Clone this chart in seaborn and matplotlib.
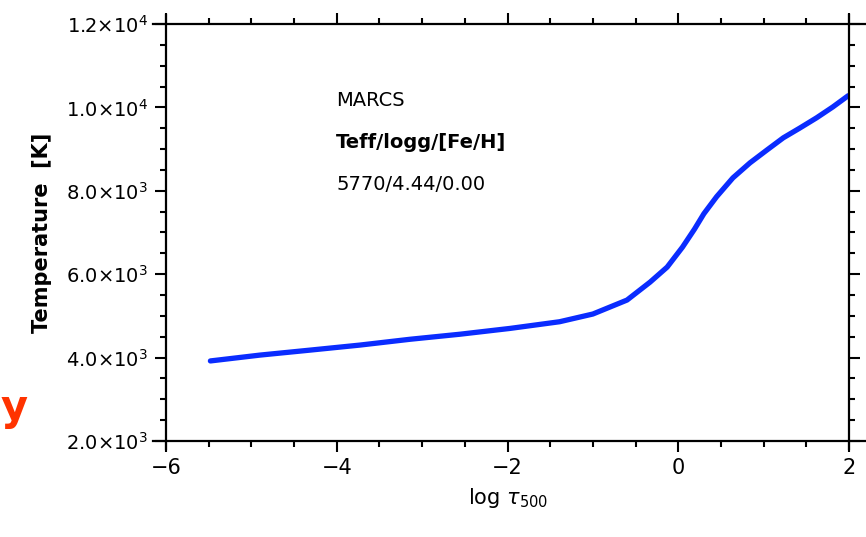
import matplotlib
matplotlib.use("Agg")
import matplotlib.pyplot as plt
import seaborn as sns
import pandas as pd
from matplotlib.ticker import MultipleLocator, FixedLocator

# Data
log_tau = [-5.48, -4.9, -4.31, -3.73, -3.14, -2.56, -1.97, -1.39, -1.0, -0.6,
           -0.33, -0.13, 0.05, 0.19, 0.3, 0.45, 0.64, 0.84, 1.04, 1.23,
           1.42, 1.62, 1.81, 1.99]
temperature = [3920, 4060, 4180, 4300, 4440, 4560, 4700, 4860, 5045, 5380,
               5810, 6170, 6650, 7080, 7450, 7860, 8310, 8670, 8980, 9270,
               9500, 9750, 10010, 10280]
y_ticks = [2000, 4000, 6000, 8000, 10000, 12000]
y_tick_labels = [r"2.0×10$^{3}$", r"4.0×10$^{3}$", r"6.0×10$^{3}$",
                 r"8.0×10$^{3}$", r"1.0×10$^{4}$", r"1.2×10$^{4}$"]
x_ticks = [-6, -4, -2, 0, 2]
x_tick_labels = ["\u22126", "\u22124", "\u22122", "0", "2"]
annotation_lines = ["MARCS", "Teff/logg/[Fe/H]", "5770/4.44/0.00"]

sns.set_style("ticks")
plt.rcParams["font.family"] = ["DejaVu Sans"]
plt.rcParams["mathtext.fontset"] = "dejavusans"
plt.rcParams["text.color"] = "black"
plt.rcParams["axes.labelcolor"] = "black"
plt.rcParams["xtick.color"] = "black"
plt.rcParams["ytick.color"] = "black"

fig = plt.figure(figsize=(8.66, 5.37), dpi=100)
ax = fig.add_axes([166 / 866, (537 - 441) / 537, (849 - 166) / 866, (441 - 24) / 537])

df = pd.DataFrame({"log_tau": log_tau, "T": temperature})
sns.lineplot(data=df, x="log_tau", y="T", ax=ax, color="#0a2cff", linewidth=3.8,
             sort=False)

ax.set_xlim(-6, 2)
ax.set_ylim(2000, 12000)
ax.xaxis.set_major_locator(FixedLocator(x_ticks))
ax.set_xticklabels(x_tick_labels)
ax.xaxis.set_minor_locator(MultipleLocator(0.5))
ax.yaxis.set_major_locator(FixedLocator(y_ticks))
ax.set_yticklabels(y_tick_labels)
ax.yaxis.set_minor_locator(MultipleLocator(500))

for side in ["top", "bottom", "left", "right"]:
    ax.spines[side].set_visible(True)
    ax.spines[side].set_linewidth(1.6)
    ax.spines[side].set_color("black")
ax.spines["top"].set_bounds(-6.15, 2.3)
ax.spines["bottom"].set_bounds(-6.15, 2.3)
ax.spines["left"].set_bounds(1800, 12220)
ax.spines["right"].set_bounds(1800, 12220)

ax.tick_params(which="both", direction="out", top=True, right=True,
               bottom=True, left=True, width=1.5, color="black")
ax.tick_params(which="major", length=8)
ax.tick_params(which="minor", length=4.5)
ax.tick_params(axis="y", which="major", labelsize=14, pad=5, labelcolor="black")
ax.tick_params(axis="x", which="major", labelsize=15, pad=4, labelcolor="black")

ax.set_xlabel(r"log $\tau_{500}$", fontsize=15, labelpad=6, color="black")
ax.set_ylabel("Temperature  [K]", fontsize=15, fontweight="bold", labelpad=10,
              color="black")

for i, line in enumerate(annotation_lines):
    fig.text(336 / 866, 1 - (100 + 42 * i) / 537, line, fontsize=14, color="black",
             fontweight="bold" if i == 1 else "normal", va="center", ha="left")

fig.text(0.5 / 866, 1 - 408 / 537, "y", color="#ff3300", fontsize=30,
         fontweight="bold", va="center", ha="left")

ax.grid(False)
fig.savefig("out.png", dpi=100)
